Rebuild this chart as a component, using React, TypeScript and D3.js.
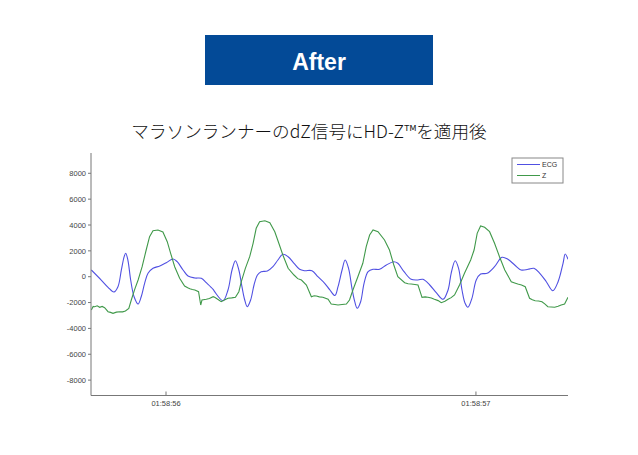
import React from "react";
import * as d3 from "d3";

// time in seconds after 01:58:00
const ecgTime = [55.759,55.791,55.813,55.832,55.845,55.856,55.865,55.870,55.877,55.886,55.897,55.910,55.920,55.931,55.942,55.958,55.980,56.001,56.023,56.036,56.055,56.071,56.093,56.114,56.130,56.152,56.157,56.184,56.200,56.213,56.224,56.235,56.245,56.254,56.262,56.273,56.284,56.295,56.307,56.327,56.345,56.361,56.377,56.394,56.413,56.431,56.447,56.471,56.490,56.512,56.528,56.545,56.555,56.568,56.578,56.589,56.600,56.609,56.617,56.628,56.639,56.652,56.668,56.689,56.711,56.735,56.748,56.768,56.791,56.813,56.829,56.851,56.872,56.894,56.910,56.920,56.933,56.944,56.955,56.965,56.974,56.987,57.001,57.015,57.036,57.060,57.084,57.103,57.125,57.146,57.168,57.187,57.206,57.227,57.248,57.265,57.281,57.288,57.297];
const ecgValue = [520,-260,-820,-1180,-770,520,1550,1810,1290,-255,-1547,-2110,-1550,-511,263,650,828,1083,1369,1160,520,54,-100,-124,-464,-975,-1160,-1857,-1029,520,1238,520,-774,-1803,-2321,-1803,-642,132,387,441,774,1292,1733,1547,1037,573,464,464,0,-511,-1000,-1455,-774,520,1292,650,-897,-1934,-2445,-1934,-511,387,573,573,905,1160,1037,387,-201,-255,-201,-642,-1238,-1749,-1029,263,1238,650,-1029,-2058,-2368,-1671,-255,209,263,774,1501,1346,905,520,573,650,263,-387,-1083,-387,1037,1756,1346];

const zTime = [55.759,55.765,55.770,55.778,55.786,55.794,55.802,55.813,55.821,55.829,55.840,55.851,55.860,55.869,55.880,55.888,55.899,55.910,55.923,55.936,55.947,55.958,55.974,55.990,56.004,56.015,56.028,56.044,56.060,56.070,56.077,56.085,56.093,56.105,56.112,56.116,56.130,56.140,56.152,56.157,56.168,56.178,56.190,56.200,56.212,56.224,56.235,56.243,56.256,56.270,56.281,56.291,56.302,56.319,56.335,56.351,56.364,56.377,56.394,56.413,56.425,56.437,56.453,56.469,56.478,56.485,56.495,56.506,56.523,56.533,56.545,56.555,56.568,56.582,56.592,56.603,56.619,56.635,56.646,56.657,56.668,56.684,56.705,56.721,56.735,56.748,56.770,56.781,56.791,56.803,56.813,56.826,56.836,56.845,56.856,56.866,56.878,56.888,56.900,56.910,56.920,56.931,56.947,56.963,56.983,56.994,57.004,57.015,57.028,57.044,57.060,57.076,57.093,57.114,57.125,57.135,57.147,57.159,57.173,57.182,57.191,57.202,57.213,57.222,57.232,57.243,57.254,57.265,57.275,57.286,57.297];
const zValue = [-2576,-2300,-2321,-2250,-2368,-2300,-2398,-2708,-2760,-2832,-2740,-2708,-2720,-2654,-2445,-1803,-975,-255,774,2066,3095,3559,3613,3458,2708,1810,774,-124,-720,-860,-928,-990,-1029,-1160,-2190,-1803,-1749,-1680,-1547,-1594,-1760,-1934,-1780,-1671,-1640,-1594,-1160,-387,650,1547,2584,3745,4255,4333,4178,3482,2584,1679,650,132,-150,-255,-642,-1547,-1470,-1493,-1560,-1594,-1749,-2112,-2150,-2190,-2150,-2112,-1803,-1029,0,1037,2321,3226,3613,3482,2840,2066,905,0,-464,-540,-565,-600,-642,-1594,-1560,-1594,-1650,-1749,-1850,-2012,-1900,-1749,-1620,-1416,-642,263,1292,2066,3358,3923,3822,3482,2584,1547,518,-387,-480,-565,-640,-774,-1671,-1780,-1857,-1880,-1934,-2100,-2321,-2340,-2368,-2290,-2190,-2112,-1594];

const yTicks = [-8000, -6000, -4000, -2000, 0, 2000, 4000, 6000, 8000];
const xTicks = [56, 57];
const xTickLabels = ["01:58:56", "01:58:57"];
const seriesNames = ["ECG", "Z"];
const seriesColors = ["#5050e2", "#40994a"];

export default function App() {
  const left = 91, right = 568, top = 153, bottom = 395.5;
  const x = d3.scaleLinear().domain([55.758, 57.297]).range([left, right]);
  const y = d3.scaleLinear().domain([-9190, 9570]).range([bottom, top]);

  const ecg = ecgTime.map((t, i) => [t, ecgValue[i]] as [number, number]);
  const z = zTime.map((t, i) => [t, zValue[i]] as [number, number]);

  const ecgLine = d3.line<[number, number]>().x(d => x(d[0])).y(d => y(d[1])).curve(d3.curveCatmullRom.alpha(0.5));
  const zLine = d3.line<[number, number]>().x(d => x(d[0])).y(d => y(d[1])).curve(d3.curveLinear);

  const font = "'Liberation Sans', Arial, sans-serif";

  return (
    <svg width={638} height={455} style={{ position: "fixed", left: 0, top: 0, background: "#fff" }}>
      <rect x={0} y={0} width={638} height={455} fill="#fff" />
      <rect x={205} y={35} width={228} height={50} fill="#034a97" />
      <text x={319} y={70} textAnchor="middle" fill="#fff" fontFamily={font} fontWeight="bold" fontSize={23}>After</text>
      <text x={309} y={138} textAnchor="middle" fill="#111" fontFamily="'Noto Sans CJK JP', sans-serif" fontWeight={300} fontSize={17.6}>マラソンランナーのdZ信号にHD-Z™を適用後</text>

      <defs>
        <clipPath id="plotclip">
          <rect x={left} y={top} width={right - left} height={bottom - top} />
        </clipPath>
      </defs>

      <g clipPath="url(#plotclip)">
        <path d={ecgLine(ecg) || ""} fill="none" stroke={seriesColors[0]} strokeWidth={1.1} />
        <path d={zLine(z) || ""} fill="none" stroke={seriesColors[1]} strokeWidth={1.1} />
      </g>

      <line x1={left} x2={left} y1={top} y2={bottom} stroke="#777" strokeWidth={1} />
      <line x1={left} x2={right} y1={bottom} y2={bottom} stroke="#777" strokeWidth={1} />
      {yTicks.map(v => (
        <g key={v}>
          <line x1={left - 3} x2={left} y1={y(v)} y2={y(v)} stroke="#777" />
          <text x={86} y={y(v) + 2.7} textAnchor="end" fontFamily={font} fontSize={7.5} fill="#444">{v}</text>
        </g>
      ))}
      {xTicks.map((t, i) => (
        <g key={t}>
          <line x1={x(t)} x2={x(t)} y1={bottom - 4} y2={bottom} stroke="#777" />
          <text x={x(t)} y={406} textAnchor="middle" fontFamily={font} fontSize={7.5} fill="#444">{xTickLabels[i]}</text>
        </g>
      ))}

      <rect x={512} y={158} width={51} height={25} fill="#fff" stroke="#888" strokeWidth={1} />
      {seriesNames.map((n, i) => (
        <g key={n}>
          <line x1={517} x2={540} y1={164.5 + i * 11} y2={164.5 + i * 11} stroke={seriesColors[i]} strokeWidth={1} />
          <text x={542} y={167 + i * 11} fontFamily={font} fontSize={7} fill="#333">{n}</text>
        </g>
      ))}
    </svg>
  );
}
